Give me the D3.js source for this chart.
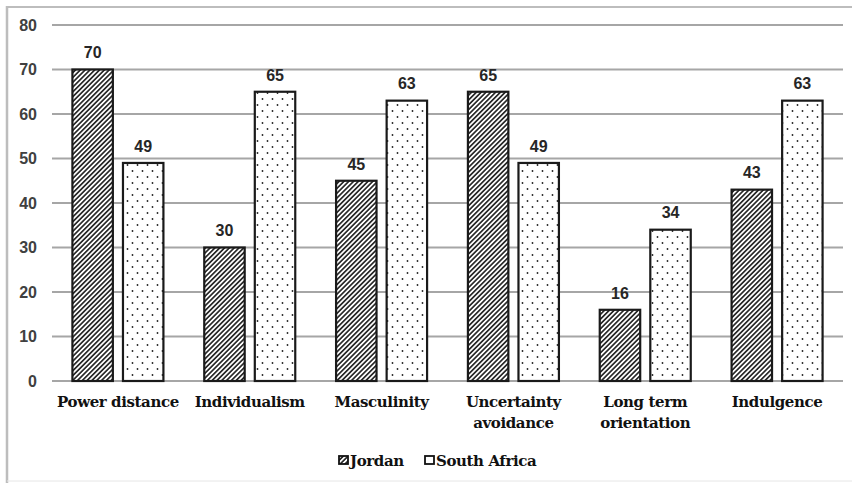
<!DOCTYPE html>
<html><head><meta charset="utf-8">
<script src="https://cdn.jsdelivr.net/npm/d3@7"></script>
<style>html,body{margin:0;padding:0;background:#fff;}
.serif{font-family:"DejaVu Serif","Liberation Serif",serif;font-weight:bold;letter-spacing:-0.4px;}
.sans{font-family:"Liberation Sans",Arial,sans-serif;font-weight:bold;}
</style>
</head><body>
<script>
const categories = [["Power distance"],["Individualism"],["Masculinity"],["Uncertainty","avoidance"],["Long term","orientation"],["Indulgence"]];
const seriesNames = ["Jordan","South Africa"];
const jordan = [70,30,45,65,16,43];
const southAfrica = [49,65,63,49,34,63];
const yTicks = [0,10,20,30,40,50,60,70,80];

const W=852,H=483;
const svg=d3.select("body").append("svg").attr("width",W).attr("height",H);
const defs=svg.append("defs");
const hatch=defs.append("pattern").attr("id","hatch").attr("patternUnits","userSpaceOnUse")
  .attr("width",3.4).attr("height",3.4).attr("patternTransform","rotate(45)");
hatch.append("rect").attr("width",3.4).attr("height",3.4).attr("fill","#fff");
hatch.append("rect").attr("width",1.7).attr("height",3.4).attr("fill","#2a2a2a");
const dots=defs.append("pattern").attr("id","dots").attr("patternUnits","userSpaceOnUse")
  .attr("width",10).attr("height",12);
dots.append("rect").attr("width",10).attr("height",12).attr("fill","#fff");
dots.append("circle").attr("cx",2.5).attr("cy",3).attr("r",0.9).attr("fill","#222");
dots.append("circle").attr("cx",7.5).attr("cy",9).attr("r",0.9).attr("fill","#222");

svg.append("rect").attr("width",W).attr("height",H).attr("fill","#fff");
// frame
svg.append("line").attr("x1",7).attr("x2",W).attr("y1",7).attr("y2",7).attr("stroke","#bdbdbd").attr("stroke-width",2);
svg.append("line").attr("x1",7).attr("x2",7).attr("y1",6).attr("y2",H).attr("stroke","#bdbdbd").attr("stroke-width",2.5);
svg.append("line").attr("x1",7).attr("x2",W).attr("y1",481).attr("y2",481).attr("stroke","#e6e6e6").attr("stroke-width",1);

const x0=d3.scaleBand().domain(d3.range(categories.length)).range([52,843]).padding(0);
const x1=d3.scaleBand().domain(seriesNames).range([0,91]).paddingInner(0.2).paddingOuter(0);
const y=d3.scaleLinear().domain([0,80]).range([381,25]);

const g=svg.append("g");
g.selectAll("line.grid").data(yTicks).enter().append("line")
  .attr("x1",52).attr("x2",843).attr("y1",d=>y(d)).attr("y2",d=>y(d))
  .attr("stroke","#a6a6a6").attr("stroke-width",2);
g.selectAll("text.yt").data(yTicks).enter().append("text").attr("class","sans")
  .attr("x",37).attr("y",d=>y(d)).attr("dy","0.36em").attr("text-anchor","end")
  .attr("font-size",16).attr("fill","#404040").text(d=>d);

const series=[{name:"Jordan",vals:jordan,fill:"url(#hatch)"},{name:"South Africa",vals:southAfrica,fill:"url(#dots)"}];
series.forEach(s=>{
  const off=(x0.bandwidth()-91)/2;
  g.selectAll(null).data(s.vals).enter().append("rect")
    .attr("x",(d,i)=>x0(i)+off+x1(s.name)).attr("y",d=>y(d))
    .attr("width",x1.bandwidth()).attr("height",d=>y(0)-y(d))
    .attr("fill",s.fill).attr("stroke","#1a1a1a").attr("stroke-width",2.2);
  g.selectAll(null).data(s.vals).enter().append("text").attr("class","sans")
    .attr("x",(d,i)=>x0(i)+off+x1(s.name)+x1.bandwidth()/2).attr("y",d=>y(d)-17)
    .attr("dy","0.36em").attr("text-anchor","middle")
    .attr("font-size",16).attr("fill","#262626").text(d=>d);
});

categories.forEach((c,i)=>{
  const t=g.append("text").attr("class","serif").attr("text-anchor","middle")
    .attr("font-size",15).attr("fill","#111");
  c.forEach((line,j)=>t.append("tspan").attr("x",x0(i)+x0.bandwidth()/2).attr("y",402+j*21).attr("dy","0.35em").text(line));
});

// legend
const leg=[{name:"Jordan",fill:"url(#hatch)",x:339},{name:"South Africa",fill:"#fff",x:425}];
leg.forEach(l=>{
  svg.append("rect").attr("x",l.x).attr("y",456).attr("width",9).attr("height",8)
    .attr("fill",l.fill).attr("stroke","#111").attr("stroke-width",1.8);
  svg.append("text").attr("class","serif").attr("x",l.x+11).attr("y",461).attr("dy","0.35em")
    .attr("font-size",15).attr("fill","#111").text(l.name);
});
</script>
</body></html>
